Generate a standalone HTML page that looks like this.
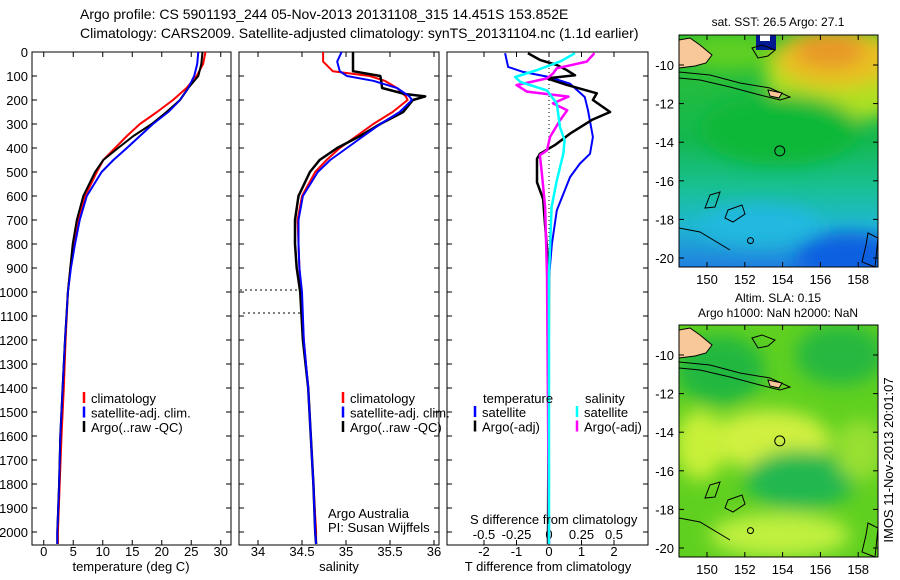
<!DOCTYPE html>
<html><head><meta charset="utf-8"><style>
body{margin:0;background:#fff;}
svg{display:block;font-family:"Liberation Sans",sans-serif;}
</style></head><body>
<svg id="chart" width="900" height="580" viewBox="0 0 900 580" xmlns="http://www.w3.org/2000/svg">
<defs>
<filter id="blur8" x="-50%" y="-50%" width="200%" height="200%"><feGaussianBlur stdDeviation="9"/></filter>
<clipPath id="clipTop"><rect x="679" y="35" width="199" height="232"/></clipPath>
<clipPath id="clipBot"><rect x="679" y="325" width="199" height="232"/></clipPath>
<linearGradient id="sstGrad" x1="0" y1="0" x2="0" y2="1">
<stop offset="0" stop-color="#30c030"/><stop offset="0.45" stop-color="#14b850"/>
<stop offset="0.65" stop-color="#18c090"/><stop offset="0.82" stop-color="#20b8d0"/><stop offset="1" stop-color="#2080e0"/>
</linearGradient>
</defs>
<g font-size="14" fill="#000">
<text x="80" y="19">Argo profile: CS 5901193_244 05-Nov-2013 20131108_315 14.451S 153.852E</text>
<text x="80" y="38">Climatology: CARS2009. Satellite-adjusted climatology: synTS_20131104.nc (1.1d earlier)</text>
</g>
<g id="panels"></g>
<g id="maps"></g>
<text transform="translate(893,460) rotate(-90)" text-anchor="middle" font-size="13">IMOS 11-Nov-2013 20:01:07</text>
</svg>
<script>
// ---- depth profile data ----
const depthProfile = [0,50,100,150,200,250,300,350,400,450,500,600,700,800,900,1000,1200,1400,1600,1800,2000,2050];
const tempArgo = [26.9,26.7,26.2,24.5,23.1,20.8,18.3,15.2,12.6,10.1,8.7,6.7,5.6,4.9,4.5,4.1,3.6,3.2,2.8,2.6,2.3,2.3];
const tempClim = [27.4,27.0,25.9,24.2,21.9,19.2,16.3,14.1,12.1,10.1,9.0,7.0,5.8,5.0,4.5,4.1,3.7,3.4,3.0,2.7,2.4,2.4];
const tempSat  = [26.2,26.0,25.5,24.5,23.1,21.1,18.5,16.3,14.1,11.8,9.8,7.3,6.1,5.3,4.6,4.1,3.6,3.2,2.8,2.6,2.3,2.3];
const depthSal = [0,40,80,100,120,150,175,185,200,250,300,350,400,450,500,600,700,800,900,1000,1200,1400,1600,1800,2000,2050];
const salArgo = [35.08,35.08,35.08,35.39,35.40,35.41,35.67,35.90,35.76,35.65,35.39,35.16,34.90,34.70,34.59,34.46,34.42,34.42,34.44,34.48,34.51,34.57,34.60,34.63,34.65,34.66];
const salClim = [34.74,34.74,34.85,35.27,35.44,35.58,35.65,35.68,35.70,35.53,35.31,35.12,34.93,34.78,34.65,34.50,34.45,34.46,34.47,34.49,34.52,34.57,34.60,34.63,34.66,34.66];
const salSat  = [34.95,34.90,34.93,35.01,35.31,35.58,35.68,35.72,35.75,35.61,35.39,35.20,35.01,34.82,34.68,34.51,34.46,34.46,34.47,34.50,34.52,34.57,34.60,34.63,34.65,34.66];
const depthTSat = [5,62,83,104,132,188,243,354,424,465,521,660,800,940,2050];
const tDiffSat = [-1.35,-1.26,-0.8,0,0.65,1.1,1.2,1.35,1.26,0.95,0.65,0.24,0.09,0,0];
const depthTArgo = [5,33,54,76,97,110,137,172,200,250,283,340,388,424,445,543,612,722,917,2050];
const tDiffArgo = [-0.65,-0.28,0.24,0.55,0.8,-0.06,0.55,1.47,1.35,1.88,1.32,0.65,0.18,-0.28,-0.37,-0.37,-0.18,-0.12,0,-0.03];
const depthSSat = [5,40,75,104,125,160,215,313,368,424,535,646,924,2050];
const sDiffSat = [0.2,0.085,-0.09,-0.26,-0.22,-0.015,0.06,0.085,0.12,0.11,0.06,0.02,0,0];
const depthSArgo = [5,40,68,90,110,138,165,186,214,243,285,354,410,430,507,646,924,2050];
const sDiffArgo = [0.35,0.29,0.06,0.03,-0.015,-0.25,-0.17,0.15,0.03,0.14,0.085,0.008,-0.015,-0.07,-0.055,-0.03,-0.015,0];
const depthTicks = [0,100,200,300,400,500,600,700,800,900,1000,1100,1200,1300,1400,1500,1600,1700,1800,1900,2000];
const tempTicks = [0,5,10,15,20,25,30];
const salTicks = [34,34.5,35,35.5,36];
const tDiffTicks = [-2,-1,0,1,2];
const sDiffTicks = [-0.5,-0.25,0,0.25,0.5];
const sDiffTickLabels = ["-0.5","-0.25","0","0.25","0.5"];
const mapLonTicks = [150,152,154,156,158];
const mapLatTicks = [-10,-12,-14,-16,-18,-20];

const NS='http://www.w3.org/2000/svg';
const yD = d => 52 + d*0.24;
const xT = t => 43.75 + t*5.9;
const xS = s => 258 + (s-34)*88;
const xTD = t => 549 + t*32.5;
const xSD = s => 549 + s*130;
function mk(tag, attrs, parent){const e=document.createElementNS(NS,tag);for(const k in attrs)e.setAttribute(k,attrs[k]);parent.appendChild(e);return e;}
function txt(parent,x,y,s,size,anchor){const e=mk('text',{x:x,y:y,'font-size':size,'text-anchor':anchor||'start'},parent);e.textContent=s;return e;}
const panels=document.getElementById('panels');

function frame(x0,x1,name){
  const r=mk('rect',{x:x0,y:52,width:x1-x0,height:493,fill:'none',stroke:'#000','stroke-width':1},panels);
  
  
  depthTicks.forEach(d=>{mk('line',{x1:x0,x2:x0+5,y1:yD(d),y2:yD(d),stroke:'#000'},panels);mk('line',{x1:x1,x2:x1-5,y1:yD(d),y2:yD(d),stroke:'#000'},panels);});
}
function xticks(vals,f,labels,y,name){
  const g=mk('g',{},panels);
  
  
  vals.forEach((v,i)=>{const x=f(v);mk('line',{x1:x,x2:x,y1:545,y2:540,stroke:'#000'},g);mk('line',{x1:x,x2:x,y1:52,y2:57,stroke:'#000'},g);if(labels)txt(g,x,y,labels[i],13,'middle');});
}
function line(xs,ds,fx,color,w,name){
  const p=mk('polyline',{points:xs.map((v,i)=>fx(v).toFixed(1)+','+yD(ds[i]).toFixed(1)).join(' '),fill:'none',stroke:color,'stroke-width':w,'stroke-linejoin':'round'},panels);
  
  
}
function legend(x,y,items){
  items.forEach((it,i)=>{const yy=y+i*14.5;mk('line',{x1:x,x2:x,y1:yy-11,y2:yy,stroke:it[1],'stroke-width':2.5},panels);
  const t=txt(panels,x+7,yy,it[0],13);
  
  });
}
const dl=mk('g',{},panels);


depthTicks.forEach(d=>txt(dl,28,yD(d)+5,String(d),13,'end'));

// Panel 1 temperature
frame(32,231,'temperature-panel');
xticks(tempTicks,xT,tempTicks.map(String),556,'temperature-x-ticks');
line(tempClim,depthProfile,xT,'#f00',2,'temp-climatology-line');
line(tempSat,depthProfile,xT,'#00f',2,'temp-satellite-line');
line(tempArgo,depthProfile,xT,'#000',2,'temp-argo-line');
line(tempSat,depthProfile,xT,'#00f',1.5,'temp-satellite-line-top');
legend(84,403,[['climatology','#f00'],['satellite-adj. clim.','#00f'],['Argo(..raw -QC)','#000']]);
txt(panels,131,571,'temperature (deg C)',13,'middle');

// Panel 2 salinity
frame(239,439,'salinity-panel');
xticks(salTicks,xS,salTicks.map(String),556,'salinity-x-ticks');
mk('line',{x1:240,x2:300,y1:290,y2:290,stroke:'#000','stroke-dasharray':'2,3'},panels);
mk('line',{x1:243,x2:301,y1:313,y2:313,stroke:'#000','stroke-dasharray':'2,3'},panels);
line(salClim,depthSal,xS,'#f00',2,'sal-climatology-line');
line(salArgo,depthSal,xS,'#000',2.5,'sal-argo-line');
line(salSat,depthSal,xS,'#00f',2,'sal-satellite-line');
legend(343,403,[['climatology','#f00'],['satellite-adj. clim.','#00f'],['Argo(..raw -QC)','#000']]);
txt(panels,328,518,'Argo Australia',13);
txt(panels,328,532,'PI: Susan Wijffels',13);
txt(panels,339,571,'salinity',13,'middle');

// Panel 3 differences
frame(447,648,'difference-panel');
xticks(tDiffTicks,xTD,tDiffTicks.map(String),556,'tdiff-x-ticks');
const sl=mk('g',{},panels);


sDiffTicks.forEach((v,i)=>txt(sl,xSD(v),539,sDiffTickLabels[i],13,'middle'));
mk('line',{x1:549,x2:549,y1:52,y2:545,stroke:'#000','stroke-dasharray':'1,3'},panels);
line(tDiffSat,depthTSat,xTD,'#00f',2,'tdiff-satellite-line');
line(tDiffArgo,depthTArgo,xTD,'#000',2.5,'tdiff-argo-line');
line(sDiffArgo,depthSArgo,xSD,'#f0f',2.5,'sdiff-argo-line');
line(sDiffSat,depthSSat,xSD,'#0ff',2.5,'sdiff-satellite-line');
txt(panels,483,403,'temperature',13);
txt(panels,585,403,'salinity',13);
legend(475,417,[['satellite','#00f'],['Argo(-adj)','#000']]);
legend(577,417,[['satellite','#0ff'],['Argo(-adj)','#f0f']]);
txt(panels,470,524,'S difference from climatology',13);
txt(panels,548,571,'T difference from climatology',13,'middle');

// ---- maps ----
const maps=document.getElementById('maps');
const mx = l => 707 + (l-150)*18.9;
function drawMap(oy, clip, kind, name, titles, titleY){
  const g=mk('g',{},maps);
  
  
  const my = lat => 65 + oy + (-10-lat)*19.3;
  const c=mk('g',{'clip-path':'url(#'+clip+')'},g);
  if(kind==='sst'){
    mk('rect',{x:679,y:35+oy,width:199,height:232,fill:'url(#sstGrad)'},c);
    const b=mk('g',{filter:'url(#blur8)'},c);
    mk('ellipse',{cx:845,cy:75,rx:80,ry:45,fill:'#b0e020'},b);
    mk('ellipse',{cx:835,cy:58,rx:60,ry:30,fill:'#e8c020'},b);
    mk('ellipse',{cx:830,cy:50,rx:35,ry:18,fill:'#e89828'},b);
    mk('ellipse',{cx:730,cy:52,rx:45,ry:18,fill:'#60d020'},b);
    mk('ellipse',{cx:780,cy:130,rx:80,ry:35,fill:'#10b838'},b);
    mk('ellipse',{cx:850,cy:258,rx:55,ry:25,fill:'#1060e0'},b);
    mk('ellipse',{cx:760,cy:225,rx:60,ry:20,fill:'#20b8e0'},b);
    mk('rect',{x:756,y:35,width:20,height:15,fill:'#001890'},c);
    mk('rect',{x:760,y:35,width:10,height:6,fill:'#fff'},c);
  } else {
    mk('rect',{x:679,y:35+oy,width:199,height:232,fill:'#60d020'},c);
    const b=mk('g',{filter:'url(#blur8)'},c);
    mk('ellipse',{cx:720,cy:oy+80,rx:45,ry:35,fill:'#20b840'},b);
    mk('ellipse',{cx:840,cy:oy+65,rx:45,ry:30,fill:'#28b840'},b);
    mk('ellipse',{cx:770,cy:oy+150,rx:60,ry:30,fill:'#d0f040'},b);
    mk('ellipse',{cx:700,cy:oy+155,rx:25,ry:35,fill:'#c8f038'},b);
    mk('ellipse',{cx:800,cy:oy+190,rx:55,ry:30,fill:'#20b850'},b);
    mk('ellipse',{cx:780,cy:oy+245,rx:70,ry:22,fill:'#c0f040'},b);
    mk('ellipse',{cx:860,cy:oy+160,rx:25,ry:30,fill:'#98e030'},b);
  }
  mk('path',{d:`M679 ${40+oy} L690 ${38+oy} L700 ${45+oy} L712 ${55+oy} L706 ${63+oy} L695 ${66+oy} L679 ${68+oy} Z`,fill:'#f8c898',stroke:'#000','stroke-width':1},c);
  mk('path',{d:`M679 ${72+oy} L710 ${75+oy} L740 ${83+oy} L770 ${88+oy} L790 ${97+oy} L780 ${100+oy} L760 ${95+oy} L730 ${87+oy} L700 ${80+oy} L679 ${78+oy}`,fill:'none',stroke:'#000','stroke-width':1},c);
  mk('path',{d:`M768 ${90+oy} L782 ${93+oy} L779 ${98+oy} L770 ${96+oy} Z`,fill:'#f8c898',stroke:'#000'},c);
  mk('path',{d:`M752 ${48+oy} L762 ${45+oy} L775 ${50+oy} L768 ${56+oy} L758 ${58+oy} Z`,fill:'none',stroke:'#000'},c);
  mk('path',{d:`M728 ${210+oy} L742 ${205+oy} L745 ${214+oy} L733 ${222+oy} L725 ${218+oy} Z M710 ${195+oy} L720 ${192+oy} L715 ${207+oy} L705 ${208+oy} Z M730 ${250+oy} L700 ${232+oy} L679 ${228+oy}`,fill:'none',stroke:'#000'},c);
  mk('path',{d:`M868 ${233+oy} L878 ${238+oy} L875 ${267+oy} L862 ${262+oy} L866 ${245+oy} Z`,fill:'none',stroke:'#000'},c);
  mk('circle',{cx:mx(152.3),cy:my(-19.1),r:3,fill:'none',stroke:'#000'},c);
  const ac=mk('circle',{cx:mx(153.85),cy:my(-14.45),r:5,fill:'none',stroke:'#000'},c);
  
  
  mk('rect',{x:679,y:35+oy,width:199,height:232,fill:'none',stroke:'#000'},g);
  mapLonTicks.forEach(l=>{const x=mx(l);mk('line',{x1:x,x2:x,y1:267+oy,y2:262+oy,stroke:'#000'},g);mk('line',{x1:x,x2:x,y1:35+oy,y2:40+oy,stroke:'#000'},g);txt(g,x,284+oy,String(l),13,'middle');});
  mapLatTicks.forEach(l=>{const y=my(l);mk('line',{x1:679,x2:684,y1:y,y2:y,stroke:'#000'},g);mk('line',{x1:878,x2:873,y1:y,y2:y,stroke:'#000'},g);txt(g,674,y+5,String(l),13,'end');});
  titles.forEach((t,i)=>txt(g,778,titleY+i*15,t,12,'middle'));
}
drawMap(0,'clipTop','sst','sst-map',['sat. SST: 26.5 Argo: 27.1'],26);
drawMap(290,'clipBot','sla','sla-map',['Altim. SLA: 0.15','Argo h1000: NaN h2000: NaN'],302);
</script>
</body></html>
